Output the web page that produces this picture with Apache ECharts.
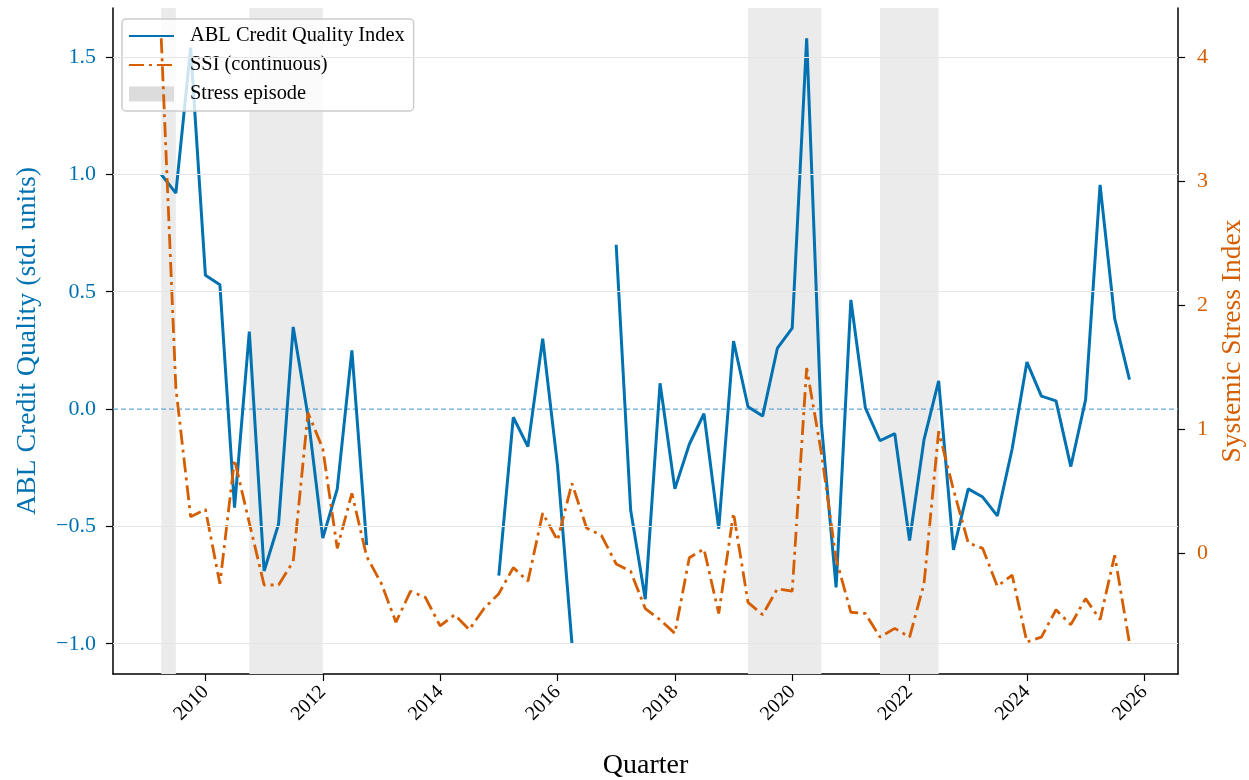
<!DOCTYPE html>
<html><head><meta charset="utf-8">
<script src="https://cdn.jsdelivr.net/npm/echarts@6/dist/echarts.min.js"></script>
<style>html,body{margin:0;padding:0;background:#fff}#c{width:1249px;height:780px}</style>
</head><body><div id="c"></div>
<script>
const quarters = [
 '2009Q1','2009Q2','2009Q3','2009Q4','2010Q1','2010Q2','2010Q3','2010Q4',
 '2011Q1','2011Q2','2011Q3','2011Q4','2012Q1','2012Q2','2012Q3','2012Q4',
 '2013Q1','2013Q2','2013Q3','2013Q4','2014Q1','2014Q2','2014Q3','2014Q4',
 '2015Q1','2015Q2','2015Q3','2015Q4','2016Q1','2016Q2','2016Q3','2016Q4',
 '2017Q1','2017Q2','2017Q3','2017Q4','2018Q1','2018Q2','2018Q3','2018Q4',
 '2019Q1','2019Q2','2019Q3','2019Q4','2020Q1','2020Q2','2020Q3','2020Q4',
 '2021Q1','2021Q2','2021Q3','2021Q4','2022Q1','2022Q2','2022Q3','2022Q4',
 '2023Q1','2023Q2','2023Q3','2023Q4','2024Q1','2024Q2','2024Q3','2024Q4',
 '2025Q1','2025Q2','2025Q3'
];
const ablIndex = [
 1.00, 0.92, 1.54, 0.57, 0.53, -0.42, 0.33, -0.69,
 -0.49, 0.35, -0.03, -0.55, -0.34, 0.25, -0.58, null,
 null, null, null, null, null, null, null, -0.71,
 -0.035, -0.16, 0.30, -0.24, -1.00, null, null, 0.70,
 -0.43, -0.81, 0.11, -0.34, -0.15, -0.02, -0.51, 0.29,
 0.01, -0.03, 0.26, 0.345, 1.58, -0.06, -0.76, 0.465,
 0.005, -0.135, -0.105, -0.56, -0.13, 0.12, -0.60, -0.34,
 -0.375, -0.455, -0.17, 0.20, 0.055, 0.035, -0.245, 0.04,
 0.955, 0.385, 0.125
];
const ssi = [
 4.15, 1.33, 0.29, 0.35, -0.25, 0.75, 0.24, -0.26,
 -0.26, -0.07, 1.13, 0.84, 0.035, 0.48, -0.03, -0.25,
 -0.56, -0.31, -0.36, -0.59, -0.50, -0.62, -0.45, -0.33,
 -0.12, -0.23, 0.32, 0.10, 0.56, 0.20, 0.14, -0.09,
 -0.15, -0.45, -0.54, -0.65, -0.04, 0.03, -0.49, 0.32,
 -0.40, -0.50, -0.29, -0.31, 1.49, 0.81, -0.05, -0.48,
 -0.49, -0.68, -0.61, -0.68, -0.25, 0.98, 0.51, 0.08,
 0.035, -0.27, -0.18, -0.72, -0.68, -0.46, -0.58, -0.37,
 -0.54, -0.02, -0.73
];
const stressEpisodes = [['2009Q1','2009Q2'], ['2010Q3','2011Q4'], ['2019Q1','2020Q2'], ['2021Q2','2022Q2']];
const xTicks = [2010, 2012, 2014, 2016, 2018, 2020, 2022, 2024, 2026];
const leftTicks = [-1.0, -0.5, 0.0, 0.5, 1.0, 1.5];
const rightTicks = [0, 1, 2, 3, 4];

const BLUE = '#0072B2', ORANGE = '#D55E00', ZERO = '#62a9d6';
const FONT = "'Liberation Serif', 'DejaVu Serif', serif";
const X_MIN = 2008.422, X_MAX = 2026.572;

function qToYear(q) {
  const y = +q.slice(0, 4), n = +q.slice(5);
  return y + [89, 180, 272, 364][n - 1] / 365;
}
const ablData = quarters.map((q, i) => [qToYear(q), ablIndex[i] === null ? '-' : ablIndex[i]]);
const ssiData = quarters.map((q, i) => [qToYear(q), ssi[i] === null ? '-' : ssi[i]]);
const fmtMinus = (v, d) => { const s = Math.abs(v).toFixed(d); return (v < 0 ? '\u2212' : '') + s; };

const gridLines = leftTicks.filter(v => v !== 0).map(v => ({yAxis: v}));

const chart = echarts.init(document.getElementById('c'), null, {renderer: 'canvas'});
chart.setOption({
  animation: false,
  backgroundColor: '#ffffff',
  textStyle: {fontFamily: FONT},
  grid: {left: 113, right: 71, top: 8, bottom: 106, containLabel: false, outerBoundsMode: 'none'},
  legend: {
    orient: 'vertical', left: 122, top: 19,
    padding: [7, 9, 7, 6], itemGap: 9, itemWidth: 45, itemHeight: 15,
    backgroundColor: 'rgba(255,255,255,0.8)', borderColor: '#cccccc', borderWidth: 1.5, borderRadius: 4,
    itemStyle: {opacity: 0},
    textStyle: {fontFamily: FONT, fontSize: 20.4, color: '#000', padding: [0, 0, 0, 11]},
    data: [
      {name: 'ABL Credit Quality Index'},
      {name: 'SSI (continuous)'},
      {name: 'Stress episode', icon: 'rect', itemStyle: {color: '#dcdcdc', opacity: 1}}
    ]
  },
  xAxis: {
    type: 'value', min: X_MIN, max: X_MAX,
    axisLine: {show: true, onZero: false, lineStyle: {color: '#000', width: 1.5}},
    axisTick: {show: true, customValues: xTicks, length: 7, lineStyle: {color: '#000', width: 1.2}},
    axisLabel: {customValues: xTicks, rotate: 45, fontSize: 20, color: '#000', fontFamily: FONT, margin: 15,
      formatter: v => String(Math.round(v))},
    splitLine: {show: false},
    name: 'Quarter', nameLocation: 'middle', nameGap: 78,
    nameTextStyle: {fontSize: 28, color: '#000', fontFamily: FONT}
  },
  yAxis: [
    {
      type: 'value', position: 'left', min: -1.129, max: 1.709,
      axisLine: {show: true, onZero: false, lineStyle: {color: '#000', width: 1.5}},
      axisTick: {show: true, customValues: leftTicks, length: 7, lineStyle: {color: '#000', width: 1.2}},
      axisLabel: {customValues: leftTicks, fontSize: 22, color: BLUE, fontFamily: FONT, margin: 17,
        formatter: v => fmtMinus(v, 1)},
      splitLine: {show: false},
      name: 'ABL Credit Quality (std. units)', nameLocation: 'middle', nameGap: 71, nameRotate: 90,
      nameTextStyle: {fontSize: 27.8, color: BLUE, fontFamily: FONT}
    },
    {
      type: 'value', position: 'right', min: -0.978, max: 4.394,
      axisLine: {show: true, onZero: false, lineStyle: {color: '#000', width: 1.5}},
      axisTick: {show: true, customValues: rightTicks, length: 7, lineStyle: {color: '#000', width: 1.2}},
      axisLabel: {customValues: rightTicks, fontSize: 22, color: ORANGE, fontFamily: FONT, margin: 19,
        formatter: v => fmtMinus(v, 0)},
      splitLine: {show: false},
      name: 'Systemic Stress Index', nameLocation: 'middle', nameGap: 39, nameRotate: 90,
      nameTextStyle: {fontSize: 27.5, color: ORANGE, fontFamily: FONT}
    }
  ],
  series: [
    {
      name: 'Stress episode', type: 'line', data: [], xAxisIndex: 0, yAxisIndex: 0, z: 1,
      itemStyle: {color: '#dcdcdc'}, lineStyle: {color: '#dcdcdc'},
      markArea: {
        silent: true, itemStyle: {color: '#ebebeb'},
        data: stressEpisodes.map(b => [{xAxis: qToYear(b[0])}, {xAxis: qToYear(b[1])}])
      },
      markLine: {
        silent: true, symbol: ['none', 'none'], label: {show: false},
        lineStyle: {color: '#e6e6e6', width: 1, type: 'solid'},
        data: gridLines
      }
    },
    {
      name: 'ABL Credit Quality Index', type: 'line', xAxisIndex: 0, yAxisIndex: 0, z: 3,
      data: ablData, showSymbol: false, symbol: 'none', connectNulls: false,
      lineStyle: {color: BLUE, width: 3}, itemStyle: {color: BLUE}
    },
    {
      name: 'SSI (continuous)', type: 'line', xAxisIndex: 0, yAxisIndex: 1, z: 4,
      data: ssiData, showSymbol: false, symbol: 'none', connectNulls: false,
      lineStyle: {color: ORANGE, width: 2.8, type: [15, 5, 3, 5]}, itemStyle: {color: ORANGE}
    }
  ]
});

// dashed zero reference line on the left axis, positioned through the library's own scales
const y0 = chart.convertToPixel({yAxisIndex: 0}, 0);
const xa = chart.convertToPixel({xAxisIndex: 0}, X_MIN);
const xb = chart.convertToPixel({xAxisIndex: 0}, X_MAX);
chart.setOption({
  graphic: [{
    type: 'line', silent: true, z: 2,
    shape: {x1: xa, y1: y0, x2: xb, y2: y0},
    style: {stroke: ZERO, lineWidth: 1.2, lineDash: [5, 3]}
  }]
});
</script></body></html>
